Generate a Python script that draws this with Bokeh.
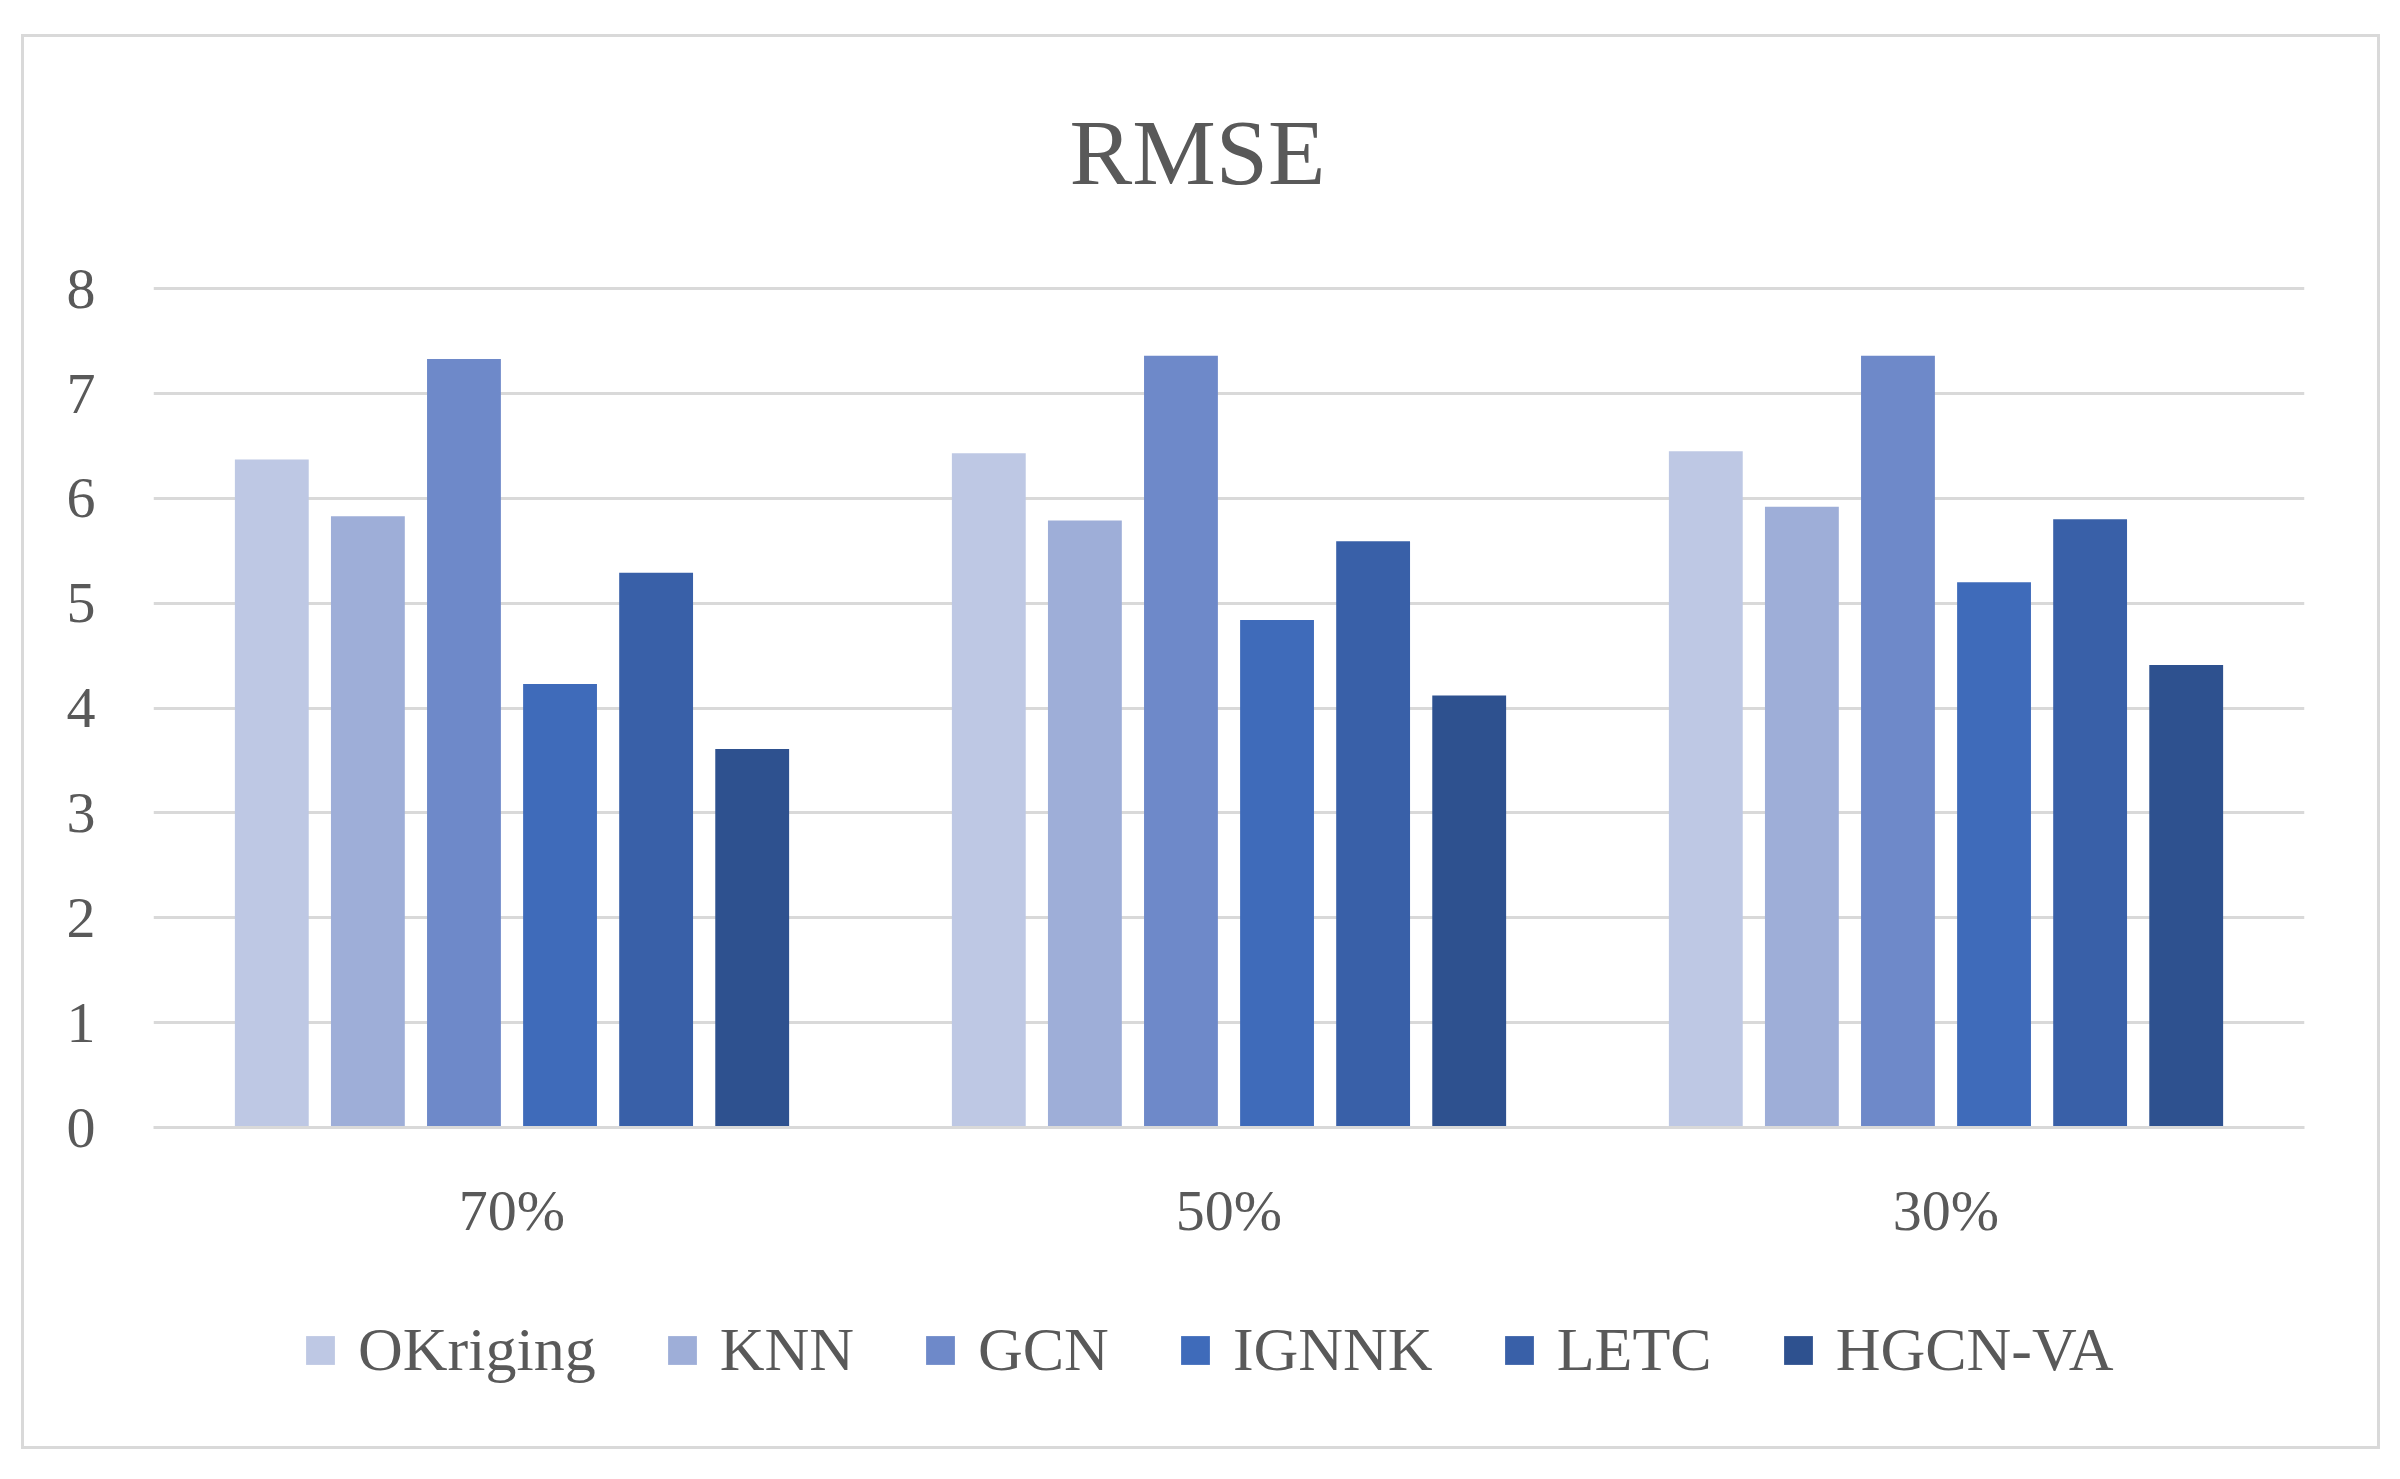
from bokeh.plotting import figure
from bokeh.models import FactorRange, Range1d, FixedTicker, Legend, LegendItem, Spacer
from bokeh.transform import dodge
from bokeh.layouts import column, row
from bokeh.embed import file_html
from bokeh.resources import INLINE
from bokeh.models import ColumnDataSource

groups = ["70%", "50%", "30%"]
series = ["OKriging", "KNN", "GCN", "IGNNK", "LETC", "HGCN-VA"]
okriging = [6.37, 6.43, 6.45]
knn = [5.83, 5.79, 5.92]
gcn = [7.33, 7.36, 7.36]
ignnk = [4.23, 4.84, 5.20]
letc = [5.29, 5.59, 5.80]
hgcn_va = [3.61, 4.12, 4.41]
colors = ["#BEC8E4", "#9EAED8", "#6E89C9", "#3F6BBA", "#3960A8", "#2E518F"]
y_ticks = [0, 1, 2, 3, 4, 5, 6, 7, 8]

values = [okriging, knn, gcn, ignnk, letc, hgcn_va]
data = {"groups": groups}
for s, v in zip(series, values):
    data[s] = v
src = ColumnDataSource(data)

FONT = "Liberation Serif"
TXT = "#595959"
GRID = "#D9D9D9"
W = 2353

# title strip
pt = figure(width=W, height=180, output_backend="svg", toolbar_location=None,
            min_border_left=129, min_border_right=73, min_border_top=166, min_border_bottom=0)
pt.outline_line_color = None
pt.axis.visible = False
pt.grid.grid_line_color = None
pt.title.text = "RMSE"
pt.title.align = "left"
pt.title.text_font = FONT
pt.title.text_font_size = "94px"
pt.title.text_font_style = "normal"
pt.title.text_color = TXT
pt.title.offset = 916
pt.title.standoff = 0

# main chart
p = figure(x_range=FactorRange(*groups), y_range=Range1d(0, 8.03),
           width=W, height=1043, output_backend="svg", toolbar_location=None,
           min_border_left=129, min_border_right=73, min_border_top=68, min_border_bottom=133)
p.outline_line_color = None
p.background_fill_color = "white"
p.border_fill_color = "white"

pitch = 0.134
width = 0.103
for i, s in enumerate(series):
    p.vbar(x=dodge("groups", (i - 2.5) * pitch, range=p.x_range), top=s, width=width,
           source=src, fill_color=colors[i], line_color=None)

p.xgrid.grid_line_color = None
p.ygrid.grid_line_color = GRID
p.ygrid.grid_line_width = 3
p.yaxis.ticker = FixedTicker(ticks=y_ticks)
p.yaxis.axis_line_color = None
p.yaxis.major_tick_line_color = None
p.yaxis.minor_tick_line_color = None
p.yaxis.major_tick_out = 0
p.yaxis.major_label_standoff = 58
p.yaxis.major_label_text_font = FONT
p.yaxis.major_label_text_font_size = "58px"
p.yaxis.major_label_text_color = TXT

p.xaxis.axis_line_color = GRID
p.xaxis.axis_line_width = 3
p.xaxis.major_tick_line_color = None
p.xaxis.minor_tick_line_color = None
p.xaxis.major_tick_out = 0
p.xaxis.major_label_standoff = 50
p.xaxis.major_label_text_font = FONT
p.xaxis.major_label_text_font_size = "58px"
p.xaxis.major_label_text_color = TXT

# legend strip: same series, drawn out of view so only the legend shows
p2 = figure(x_range=FactorRange(*groups), y_range=Range1d(100, 101),
            width=W, height=186, output_backend="svg", toolbar_location=None,
            min_border=0)
p2.outline_line_color = None
p2.axis.visible = False
p2.grid.grid_line_color = None
items = []
for i, s in enumerate(series):
    r = p2.vbar(x=dodge("groups", (i - 2.5) * pitch, range=p2.x_range), top=s, width=width,
                source=src, fill_color=colors[i], line_color=None)
    items.append(LegendItem(label=s, renderers=[r]))

legend = Legend(items=items, orientation="horizontal", location=(149, 61),
                glyph_width=36, glyph_height=36, label_standoff=20, spacing=68,
                label_text_font=FONT, label_text_font_size="62px", label_text_color=TXT,
                border_line_color=None, background_fill_alpha=0, margin=0, padding=10)
p2.add_layout(legend)

chart = column(pt, p, p2, spacing=0,
               styles={"outline": "3px solid #D9D9D9", "outline-offset": "0px"})
layout = column(Spacer(height=37), row(Spacer(width=24), chart))
open("out.html", "w").write(file_html(layout, INLINE))
